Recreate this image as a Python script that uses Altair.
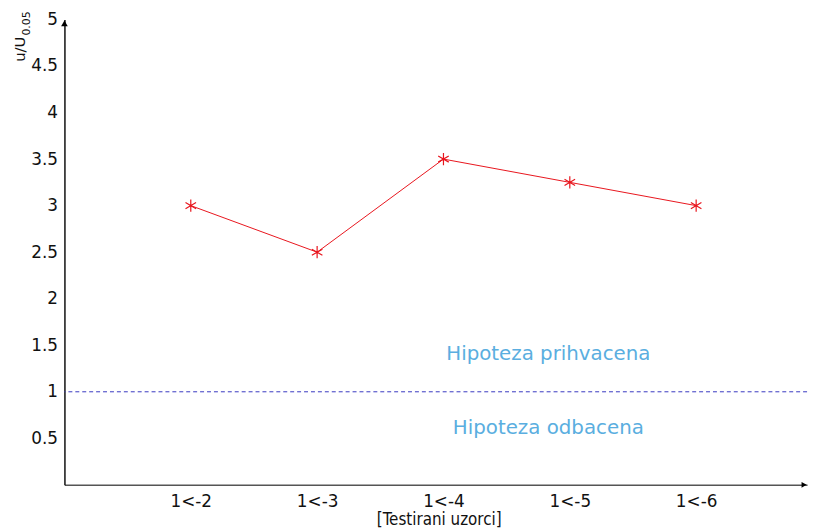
import altair as alt
import pandas as pd

categories = ["1<-2", "1<-3", "1<-4", "1<-5", "1<-6"]
positions = [1, 2, 3, 4, 5]
values = [3.0, 2.5, 3.5, 3.25, 3.0]
y_ticks = [0.5, 1, 1.5, 2, 2.5, 3, 3.5, 4, 4.5, 5]
threshold = 1.0
notes = ["Hipoteza prihvacena", "Hipoteza odbacena"]
note_y = [1.41, 0.606]

df = pd.DataFrame({"pos": positions, "val": values, "cat": categories})
labels_expr = "{1:'1<-2',2:'1<-3',3:'1<-4',4:'1<-5',5:'1<-6'}[datum.value]"

XMAX = 750 / 127.6
xs = alt.Scale(domain=[0, XMAX], nice=False, zero=False)
ys = alt.Scale(domain=[0, 5], nice=False)

xaxis = alt.Axis(values=positions, labelExpr=labels_expr, ticks=False, domain=True,
                 domainColor="#555555", domainWidth=1.5, grid=False,
                 labelFont="DejaVu Sans", labelFontSize=17, labelColor="#111111",
                 labelPadding=9, title="[Testirani uzorci]", titleFont="DejaVu Sans Condensed",
                 titleFontSize=17, titleFontWeight="normal", titleColor="#111111",
                 titleBaseline="alphabetic", titlePadding=0, titleX=378, titleY=40)
yaxis = alt.Axis(values=y_ticks, format="~g", ticks=False, domain=True, domainColor="#111111",
                 domainWidth=1.5, grid=False, labelFont="DejaVu Sans", labelFontSize=17,
                 labelColor="#111111", labelPadding=7, title=None)

asterisk = "M0,-1L0,1M-0.87,-0.5L0.87,0.5M-0.87,0.5L0.87,-0.5"

base = alt.Chart(df)
line = base.mark_line(color="#e8141c", strokeWidth=1).encode(
    x=alt.X("pos:Q", scale=xs, axis=xaxis),
    y=alt.Y("val:Q", scale=ys, axis=yaxis),
)
pts = base.mark_point(shape=asterisk, size=150, color="#e8141c", strokeWidth=1.2, filled=False,
                      opacity=1).encode(
    x=alt.X("pos:Q", scale=xs), y=alt.Y("val:Q", scale=ys)
)

rule_df = pd.DataFrame({"y": [threshold]})
rule = alt.Chart(rule_df).mark_rule(color="#3838c0", strokeDash=[4, 3], strokeWidth=1).encode(
    y=alt.Y("y:Q", scale=ys)
)

notes_df = pd.DataFrame({"t": notes, "y": note_y, "x": [3.83, 3.83]})
note_txt = alt.Chart(notes_df).mark_text(color="#5aaee0", font="DejaVu Sans", fontSize=20).encode(
    x=alt.X("x:Q", scale=xs), y=alt.Y("y:Q", scale=ys), text="t:N"
)

arrow_df = pd.DataFrame({"x": [0, XMAX], "y": [5, 0]})
arrow_up = alt.Chart(arrow_df.iloc[[0]]).mark_point(shape="triangle-up", filled=True, color="#000000",
                                                   size=45, opacity=1, yOffset=4).encode(
    x=alt.X("x:Q", scale=xs), y=alt.Y("y:Q", scale=ys))
arrow_right = alt.Chart(arrow_df.iloc[[1]]).mark_point(shape="triangle-right", filled=True, color="#000000",
                                                      size=35, opacity=1, xOffset=-3).encode(
    x=alt.X("x:Q", scale=xs), y=alt.Y("y:Q", scale=ys))

ytitle_df = pd.DataFrame({"t": ["u/U"], "x": [0], "y": [5]})
ytitle = alt.Chart(ytitle_df).mark_text(angle=270, font="DejaVu Sans", fontSize=15, color="#111111",
                                       align="center", baseline="middle", xOffset=-45, yOffset=30).encode(
    x=alt.X("x:Q", scale=xs), y=alt.Y("y:Q", scale=ys), text="t:N")
ysub_df = pd.DataFrame({"t": ["0.05"], "x": [0], "y": [5]})
ysub = alt.Chart(ysub_df).mark_text(angle=270, font="DejaVu Sans", fontSize=11, color="#111111",
                                   align="center", baseline="middle", xOffset=-38, yOffset=4).encode(
    x=alt.X("x:Q", scale=xs), y=alt.Y("y:Q", scale=ys), text="t:N")

chart = alt.layer(rule, line, pts, note_txt, arrow_up, arrow_right, ytitle, ysub).properties(
    width=750, height=470,
    background="white",
    autosize=alt.AutoSizeParams(type="none"),
    padding={"left": 57, "top": 9, "right": 5, "bottom": 44},
).configure_view(strokeWidth=0, stroke=None)

chart.save("out.html", embed_options={"renderer": "svg", "actions": False})
